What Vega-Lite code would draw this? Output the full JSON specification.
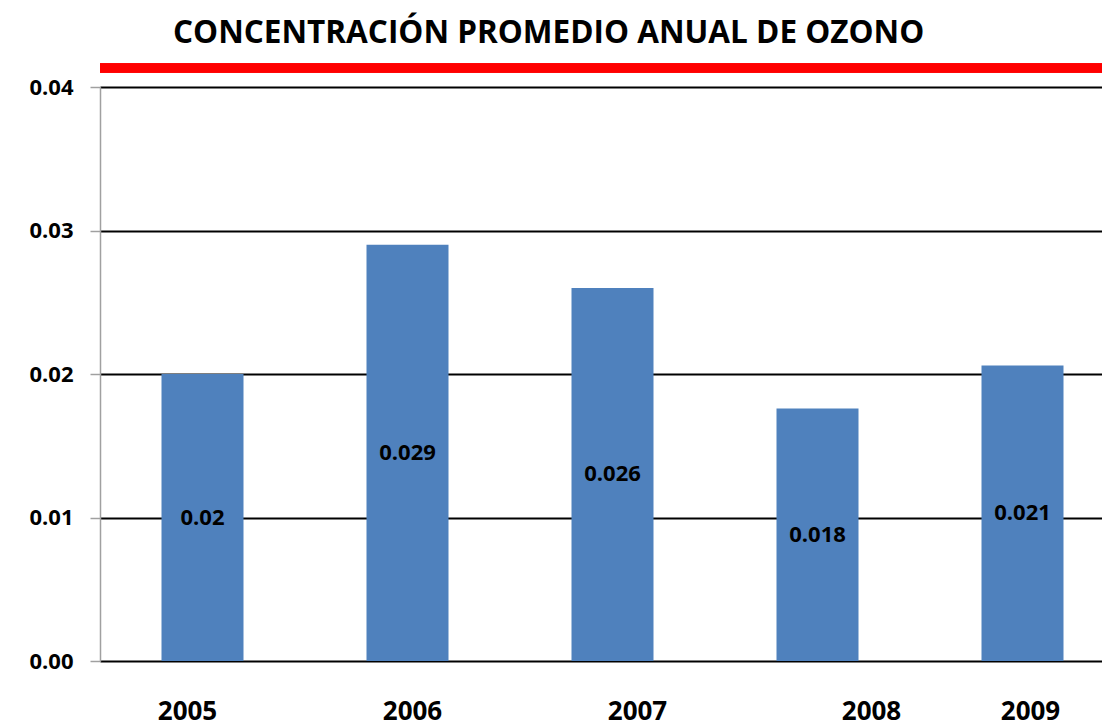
{
  "$schema": "https://vega.github.io/schema/vega-lite/v6.json",
  "autosize": "none",
  "padding": {"left": 100, "top": 87, "right": 0, "bottom": 65},
  "width": 1002,
  "height": 574,
  "background": "white",
  "config": {"view": {"stroke": null}, "font": "Open Sans"},
  "title": {
    "text": "CONCENTRACIÓN PROMEDIO ANUAL DE OZONO",
    "font": "Open Sans",
    "fontSize": 31.5,
    "fontWeight": "bold",
    "color": "#000000",
    "anchor": "start",
    "frame": "group",
    "dx": 73,
    "offset": -11,
    "baseline": "alphabetic"
  },
  "data": {
    "values": [
      {"year": "2005", "value": 0.0200},
      {"year": "2006", "value": 0.0290},
      {"year": "2007", "value": 0.0260},
      {"year": "2008", "value": 0.0176},
      {"year": "2009", "value": 0.0206}
    ]
  },
  "resolve": {"scale": {"y": "independent"}},
  "layer": [
    {
      "mark": {"type": "bar", "color": "#4f81bd"},
      "encoding": {
        "x": {
          "field": "year",
          "type": "nominal",
          "sort": null,
          "scale": {"range": [0, 1025], "paddingInner": 0.6, "paddingOuter": 0.3},
          "axis": {
            "title": null,
            "labelAngle": 0,
            "domain": false,
            "ticks": false,
            "tickSize": 0,
            "labelFont": "Open Sans",
            "labelFontSize": 26,
            "labelFontWeight": "bold",
            "labelColor": "#000000",
            "labelPadding": 37,
            "labelOffset": {"expr": "datum.value == '2005' ? -15 : datum.value == '2006' ? 5 : datum.value == '2007' ? 25 : datum.value == '2008' ? 54 : 8"}
          }
        },
        "y": {
          "field": "value",
          "type": "quantitative",
          "scale": {"domain": [0, 0.04], "nice": false, "zero": true},
          "axis": {
            "title": null,
            "values": [0, 0.01, 0.02, 0.03, 0.04],
            "format": ".2f",
            "domain": true,
            "domainColor": "#a0a0a0",
            "domainWidth": 1.5,
            "ticks": true,
            "tickColor": "#a0a0a0",
            "tickSize": 10,
            "tickWidth": 1.5,
            "grid": true,
            "gridColor": "#000000",
            "gridWidth": 2,
            "gridOpacity": 1,
            "labelFont": "Open Sans",
            "labelFontSize": 22,
            "labelFontWeight": "bold",
            "labelColor": "#000000",
            "labelPadding": 17
          }
        }
      }
    },
    {
      "mark": {"type": "text", "font": "Open Sans", "fontSize": 22, "fontWeight": "bold", "color": "#000000", "baseline": "middle", "align": "center"},
      "encoding": {
        "x": {"field": "year", "type": "nominal", "sort": null},
        "y": {"field": "value", "type": "quantitative", "scale": {"domain": [0, 0.08], "nice": false, "zero": true}, "axis": null},
        "text": {"field": "value", "type": "quantitative", "format": ".3~f"}
      }
    },
    {
      "mark": {"type": "rule", "color": "#ff0000", "strokeWidth": 9},
      "encoding": {
        "y": {"datum": 0.04132, "type": "quantitative", "scale": {"domain": [0, 0.04], "nice": false, "zero": true}, "axis": null}
      }
    }
  ]
}
